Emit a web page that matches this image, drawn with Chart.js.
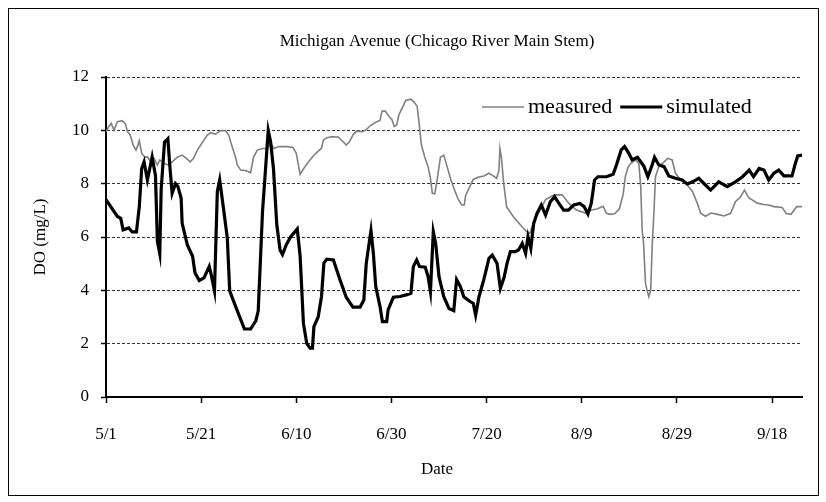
<!DOCTYPE html>
<html>
<head>
<meta charset="utf-8">
<script src="https://cdn.jsdelivr.net/npm/chart.js@4"></script>
<style>
  body { margin: 0; background: #fff; }
  #wrap { position: relative; width: 826px; height: 502px; }
  #frame { position: absolute; left: 8px; top: 8px; width: 809px; height: 486px; border: 1px solid #000; pointer-events: none; }
</style>
</head>
<body>
<div id="wrap">
  <canvas id="do-chart" width="826" height="502"></canvas>
  <div id="frame"></div>
</div>
<script>
// days after 5/1 and DO values (mg/L)
const simDays = [0, 2.4, 3.1, 3.6, 4.8, 5.5, 6.4, 7.0, 7.5, 8.0, 8.7, 9.7, 10.4, 10.8, 11.3, 11.6, 12.3, 13.0, 13.4, 13.9,
  14.6, 15.1, 15.8, 16.0, 17.1, 18.2, 18.7, 19.6, 20.6, 21.7, 22.1, 22.8, 23.4, 23.9, 24.6, 25.5, 26.0, 27.6, 29.1, 30.4,
  31.5, 32.0, 32.9, 33.4, 34.1, 34.6, 35.2, 35.9, 36.6, 37.1, 37.9, 38.8, 40.2, 40.8, 41.5, 42.2, 42.9, 43.4, 43.7, 44.6,
  45.3, 45.8, 46.4, 47.8, 49.2, 50.5, 51.9, 53.4, 54.2, 54.7, 55.1, 55.7, 56.2, 56.7, 57.6, 58.1, 59.0, 59.3, 60.4, 61.8,
  63.1, 64.1, 64.6, 65.3, 65.9, 67.1, 67.7, 68.2, 68.8, 69.3, 70.0, 71.0, 72.1, 73.1, 73.7, 74.5, 75.2, 76.3, 77.2, 77.7,
  78.4, 79.4, 80.5, 81.2, 82.2, 82.9, 83.7, 84.3, 85.0, 86.0, 86.7, 87.5, 88.2, 88.7, 89.3, 89.9, 90.6, 91.5, 92.4, 93.4,
  94.3, 95.2, 96.2, 97.2, 98.3, 99.6, 100.5, 101.3, 102.0, 102.7, 103.4, 105.2, 106.6, 107.3, 108.3, 109.0, 109.9, 110.6,
  111.7, 112.4, 113.1, 113.9, 114.8, 115.3, 116.2, 117.3, 118.3, 119.7, 121.1, 122.2, 123.3, 124.6, 126.0, 127.1, 128.8,
  130.6, 132.3, 133.8, 135.2, 136.1, 137.3, 138.3, 139.3, 140.4, 141.4, 142.5, 144.2, 144.9, 145.4, 146.3];
const simDO = [7.4, 6.77, 6.7, 6.27, 6.34, 6.19, 6.19, 7.14, 8.57, 8.82, 8.14, 9.0, 8.3, 5.84, 5.37, 7.8, 9.56, 9.69, 8.7, 7.64,
  8.0, 7.9, 7.45, 6.52, 5.7, 5.28, 4.66, 4.37, 4.47, 4.9, 4.6, 3.98, 7.7, 8.14, 7.2, 5.96, 3.98, 3.23, 2.55, 2.55,
  2.86, 3.23, 6.96, 8.2, 10.0, 9.57, 8.57, 6.46, 5.5, 5.34, 5.71, 6.0, 6.3, 5.3, 2.76, 2.01, 1.83, 1.83, 2.64, 3.0,
  3.77, 5.02, 5.17, 5.14, 4.39, 3.74, 3.37, 3.37, 3.64, 5.0, 5.5, 6.24, 5.39, 4.14, 3.39, 2.83, 2.83, 3.27, 3.74, 3.77,
  3.83, 3.89, 4.89, 5.14, 4.89, 4.87, 4.52, 3.95, 6.2, 5.76, 4.51, 3.76, 3.32, 3.24, 4.4, 4.14, 3.76, 3.61, 3.51, 3.07,
  3.76, 4.39, 5.2, 5.32, 5.01, 4.07, 4.5, 5.01, 5.45, 5.45, 5.51, 5.76, 5.39, 6.01, 5.57, 6.51, 6.89, 7.2, 6.82, 7.32,
  7.51, 7.26, 7.01, 7.01, 7.2, 7.26, 7.14, 6.86, 7.26, 8.14, 8.26, 8.26, 8.35, 8.7, 9.27, 9.39, 9.14, 8.89,
  8.99, 8.82, 8.64, 8.26, 8.7, 8.99, 8.7, 8.64, 8.29, 8.2, 8.14, 7.99, 8.07, 8.2, 7.95, 7.76, 8.07,
  7.89, 8.07, 8.26, 8.51, 8.26, 8.57, 8.51, 8.14, 8.39, 8.51, 8.29, 8.29, 8.76, 9.04, 9.07];

const measDays = [0, 0.6, 1.1, 1.7, 2.4, 3.4, 4.1, 4.5, 5.1, 5.7, 6.3, 6.6, 7.0, 7.5, 8.2, 8.7, 9.4, 10.1, 10.8, 11.3,
  12.2, 13.2, 13.9, 15.0, 16.0, 16.9, 17.7, 18.4, 19.2, 19.9, 20.6, 21.3, 22.0, 23.0, 24.1, 25.1, 25.8, 26.5, 27.2, 27.6,
  28.3, 29.4, 30.4, 31.0, 31.8, 32.9, 33.9, 34.6, 35.3, 36.3, 38.1, 39.3, 40.0, 40.8, 41.5, 42.5, 43.6, 44.6, 45.3, 45.7,
  46.4, 47.4, 48.8, 49.8, 50.5, 51.2, 52.0, 52.7, 53.9, 54.6, 55.6, 56.7, 57.6, 58.0, 58.7, 59.4, 60.1, 60.6, 61.1, 61.6,
  62.3, 63.0, 64.1, 64.8, 65.4, 65.8, 66.3, 67.0, 67.7, 68.2, 68.6, 69.1, 69.6, 70.3, 71.0, 71.7, 72.5, 73.4, 74.1, 74.8,
  75.3, 75.6, 76.3, 77.2, 78.2, 79.4, 80.5, 81.4, 82.1, 82.6, 82.8, 83.1, 83.6, 84.2, 85.6, 87.0, 88.4, 89.1, 89.8, 91.2,
  92.4, 94.2, 95.9, 97.3, 98.8, 100.9, 102.0, 103.2, 104.5, 105.2, 105.9, 106.9, 107.9, 108.7, 109.2, 109.7, 110.3, 111.4,
  112.0, 112.4, 112.7, 113.0, 113.4, 113.8, 114.1, 114.5, 114.8, 115.2, 115.5, 116.2, 117.3, 118.1, 119.0, 119.7, 120.8,
  122.2, 123.3, 124.3, 125.0, 126.0, 127.2, 128.8, 129.9, 131.3, 132.3, 133.4, 134.2, 135.1, 136.9, 138.2, 139.3, 140.4,
  142.1, 143.0, 144.0, 145.2, 146.3];
const measDO = [9.95, 10.14, 10.26, 10.01, 10.32, 10.36, 10.24, 9.95, 9.82, 9.45, 9.26, 9.39, 9.61, 9.14, 8.99, 9.01, 8.82, 8.95, 8.7, 8.89,
  8.76, 8.7, 8.82, 8.99, 9.07, 8.95, 8.82, 8.95, 9.26, 9.45, 9.64, 9.82, 9.91, 9.86, 9.99, 9.99, 9.82, 9.39, 9.01, 8.7,
  8.51, 8.49, 8.41, 8.99, 9.26, 9.32, 9.32, 9.51, 9.32, 9.39, 9.39, 9.36, 9.14, 8.35, 8.55, 8.8, 9.05, 9.22, 9.33, 9.64,
  9.72, 9.76, 9.75, 9.58, 9.45, 9.58, 9.85, 9.97, 9.95, 10.01, 10.18, 10.3, 10.37, 10.72, 10.72, 10.55, 10.4, 10.14, 10.2, 10.6,
  10.85, 11.12, 11.17, 11.05, 10.9, 10.3, 9.45, 9.0, 8.64, 8.2, 7.64, 7.62, 8.14, 8.99, 9.07, 8.64, 8.14, 7.7, 7.39, 7.2,
  7.2, 7.57, 7.82, 8.16, 8.24, 8.29, 8.39, 8.29, 8.2, 8.51, 9.32, 9.01, 8.0, 7.14, 6.77, 6.48, 6.2, 6.14, 6.5, 7.0,
  7.4, 7.58, 7.58, 7.26, 7.02, 6.89, 7.01, 7.05, 7.15, 6.89, 6.85, 6.87, 7.05, 7.6, 8.3, 8.6, 8.76, 8.89,
  8.76, 7.89, 6.26, 5.76, 4.26, 3.95, 3.76, 4.01, 5.64, 7.01, 8.26, 8.64, 8.82, 8.95, 8.89, 8.39, 8.14,
  7.95, 7.7, 7.26, 6.89, 6.78, 6.9, 6.84, 6.79, 6.89, 7.32, 7.51, 7.76, 7.47, 7.27, 7.22, 7.2, 7.14,
  7.11, 6.88, 6.85, 7.14, 7.14];

const tickLabels = ['5/1', '5/21', '6/10', '6/30', '7/20', '8/9', '8/29', '9/18'];
const tickStep = 20;

const serif = '"Liberation Serif", "Times New Roman", serif';

function toPoints(xs, ys) {
    return xs.map((x, i) => ({ x: x, y: ys[i] }));
}

// chart title, x axis title and the legend inside the plot
const decorations = {
    id: 'decorations',
    afterDraw(chart) {
        const ctx = chart.ctx;
        ctx.save();
        ctx.fillStyle = '#000';
        ctx.textBaseline = 'middle';
        ctx.textAlign = 'center';
        ctx.font = '17px ' + serif;
        ctx.fillText('Michigan Avenue (Chicago River Main Stem)', 437, 42);
        ctx.fillText('Date', 437, 470);

        // legend
        ctx.font = '22px ' + serif;
        ctx.textAlign = 'left';
        let x = 482;
        const y = 107;
        chart.data.datasets.forEach(ds => {
            ctx.strokeStyle = ds.borderColor;
            ctx.lineWidth = ds.borderWidth;
            ctx.beginPath();
            ctx.moveTo(x, y);
            ctx.lineTo(x + 42, y);
            ctx.stroke();
            ctx.fillText(ds.label, x + 46, y);
            x += 46 + ctx.measureText(ds.label).width + 8;
        });
        ctx.restore();
    }
};

const ctx = document.getElementById('do-chart').getContext('2d');
new Chart(ctx, {
    type: 'line',
    data: {
        datasets: [
            {
                label: 'measured',
                data: toPoints(measDays, measDO),
                borderColor: '#808080',
                borderWidth: 1.6,
                pointRadius: 0,
                tension: 0,
                order: 1
            },
            {
                label: 'simulated',
                data: toPoints(simDays, simDO),
                borderColor: '#000000',
                borderWidth: 3.2,
                pointRadius: 0,
                tension: 0,
                order: 0
            }
        ]
    },
    options: {
        responsive: false,
        animation: false,
        layout: { padding: { left: 0, right: 24, top: 77, bottom: 0 } },
        plugins: {
            legend: { display: false },
            title: { display: false },
            tooltip: { enabled: false }
        },
        scales: {
            x: {
                type: 'linear',
                min: 0,
                max: 146.3,
                afterFit: s => { s.height = 105; },
                ticks: {
                    stepSize: tickStep,
                    includeBounds: false,
                    autoSkip: false,
                    maxRotation: 0,
                    color: '#000',
                    font: { family: serif, size: 17 },
                    padding: 21,
                    callback: v => tickLabels[Math.round(v / tickStep)]
                },
                grid: { drawOnChartArea: false, tickLength: 6, tickColor: '#000', tickWidth: 1.5 },
                border: { color: '#000', width: 2 }
            },
            y: {
                min: 0,
                max: 12,
                afterFit: s => { s.width = 106; },
                ticks: {
                    stepSize: 2,
                    color: '#000',
                    font: { family: serif, size: 17 },
                    padding: 12
                },
                grid: { color: '#000', lineWidth: 0.8, tickLength: 5, tickColor: '#000', tickWidth: 1.5, tickBorderDash: [] },
                border: { color: '#000', width: 2, dash: [3, 2] },
                title: {
                    display: true,
                    text: 'DO (mg/L)',
                    color: '#000',
                    font: { family: serif, size: 17 },
                    padding: { top: 30, bottom: 0 }
                }
            }
        }
    },
    plugins: [decorations]
});
</script>
</body>
</html>
